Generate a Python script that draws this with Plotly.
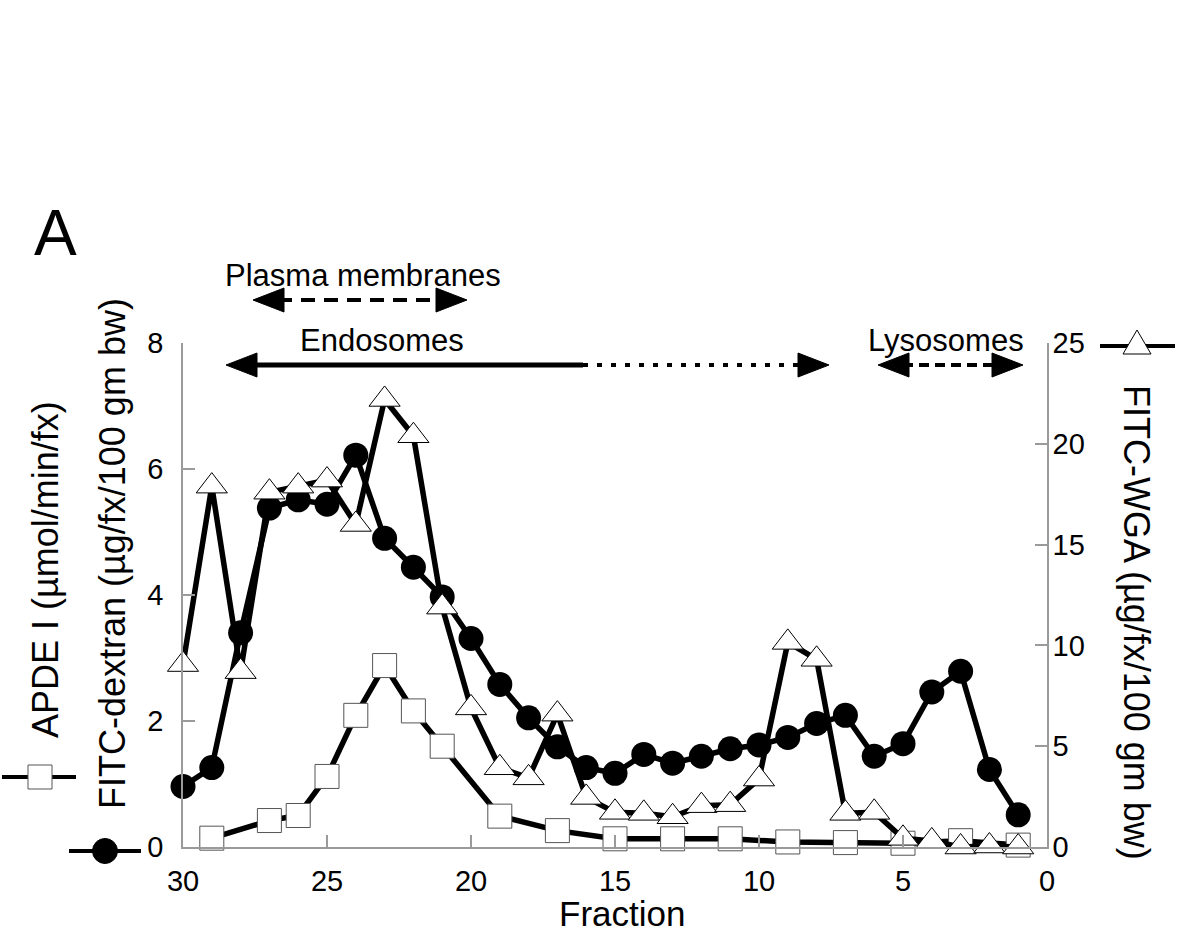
import plotly.graph_objects as go

# ---------------- data ----------------
fractions = list(range(30, 0, -1))
fitc_dextran = [0.96, 1.26, 3.40, 5.38, 5.51, 5.44, 6.22, 4.90, 4.44, 3.97,
                3.31, 2.58, 2.05, 1.59, 1.26, 1.17, 1.47, 1.33, 1.44, 1.56,
                1.62, 1.74, 1.96, 2.09, 1.44, 1.64, 2.46, 2.79, 1.23, 0.51]
fitc_wga = [9.05, 17.9, 8.7, 17.6, 17.9, 18.2, 16.0, 22.2, 20.4, 11.9,
            6.9, 3.93, 3.43, 6.59, 2.46, 1.72, 1.67, 1.50, 2.05, 2.10,
            3.37, 10.15, 9.31, 1.67, 1.72, 0.43, 0.30, 0.0, 0.05, 0.0]
apde_fractions = [29, 27, 26, 25, 24, 23, 22, 21, 19, 17, 15, 13, 11, 9, 7, 5, 3, 1]
apde = [0.14, 0.42, 0.50, 1.12, 2.09, 2.88, 2.16, 1.60, 0.49, 0.26,
        0.13, 0.13, 0.13, 0.08, 0.07, 0.06, 0.10, 0.03]

x_ticks = [30, 25, 20, 15, 10, 5, 0]
left_ticks = [0, 2, 4, 6, 8]
right_ticks = [0, 5, 10, 15, 20, 25]

# ---------------- layout geometry (pixels) ----------------
W, H = 1200, 936
L, R, T, B = 183, 1047, 343, 847
FONT = "Liberation Sans, Arial, Helvetica, sans-serif"


def px(x):
    return (x - L) / (R - L)


def py(y):
    return (B - y) / (B - T)


fig = go.Figure()

line_style = dict(color="black", width=5.5)

fig.add_trace(go.Scatter(
    x=apde_fractions, y=apde, mode="lines+markers", name="APDE I",
    line=line_style, cliponaxis=False,
    marker=dict(symbol="square", size=24, color="white",
                line=dict(color="#555555", width=1))))

fig.add_trace(go.Scatter(
    x=fractions, y=fitc_dextran, mode="lines+markers", name="FITC-dextran",
    line=line_style, cliponaxis=False,
    marker=dict(symbol="circle", size=25, color="black")))

fig.add_trace(go.Scatter(
    x=fractions, y=fitc_wga, mode="lines+markers", name="FITC-WGA",
    yaxis="y2", line=line_style, cliponaxis=False,
    marker=dict(symbol="triangle-up", size=27, color="white",
                line=dict(color="black", width=1))))

axis_common = dict(showgrid=False, zeroline=False, showline=True,
                   linecolor="#9a9a9a", ticks="inside", ticklen=12,
                   tickcolor="#9a9a9a", tickwidth=1.5,
                   tickfont=dict(size=29, color="black", family=FONT))

fig.update_layout(
    width=W, height=H,
    margin=dict(l=L, r=W - R, t=T, b=H - B, pad=0),
    paper_bgcolor="white", plot_bgcolor="white",
    showlegend=False,
    font=dict(family=FONT, color="black"),
    xaxis=dict(range=[30, 0], tickvals=x_ticks, linewidth=2,
               ticklabelstandoff=7, **axis_common),
    yaxis=dict(range=[0, 8], tickvals=left_ticks, linewidth=1.5,
               ticklabelstandoff=12, **axis_common),
    yaxis2=dict(range=[0, 25], tickvals=right_ticks, overlaying="y",
                side="right", anchor="x", linewidth=1.5,
                ticklabelstandoff=-2, **axis_common),
)

# ---------------- text annotations ----------------
def text(s, x, y, size, angle=0):
    fig.add_annotation(text=s, x=px(x), y=py(y), xref="paper", yref="paper",
                       showarrow=False, xanchor="center", yanchor="middle",
                       textangle=angle, font=dict(size=size, family=FONT, color="black"))


text("A", 55, 233, 64)
text("Plasma membranes", 363, 275, 31)
text("Endosomes", 382, 340, 31)
text("Lysosomes", 946, 340, 31)
text("Fraction", 622, 913, 35)
text("APDE I (µmol/min/fx)", 45, 570, 36, -90)
text("FITC-dextran (µg/fx/100 gm bw)", 112, 554, 36, -90)
text("FITC-WGA (µg/fx/100 gm bw)", 1137, 622, 36, 90)

# ---------------- arrows and legend symbols (shapes) ----------------
shapes = []


def hline(x0, x1, y, width=4, dash="solid"):
    shapes.append(dict(type="line", xref="paper", yref="paper",
                       x0=px(x0), x1=px(x1), y0=py(y), y1=py(y),
                       line=dict(color="black", width=width, dash=dash)))


def head(xtip, y, direction, length=31, half=12):
    d = -1 if direction == "right" else 1
    path = f"M0,0 L{d*length},{half} L{d*length},{-half} Z"
    shapes.append(dict(type="path", xref="paper", yref="paper",
                       xsizemode="pixel", ysizemode="pixel",
                       xanchor=px(xtip), yanchor=py(y), path=path,
                       fillcolor="black", line=dict(color="black", width=1)))


# Plasma membranes
hline(278, 442, 300, 4, "14px,9px")
head(253, 300, "left")
head(467, 300, "right")
# Endosomes
hline(250, 583, 365, 5, "solid")
hline(583, 800, 365, 4, "5px,9px")
head(226, 365, "left")
head(829, 365, "right")
# Lysosomes
hline(903, 998, 365, 4, "10px,6px")
head(878, 365, "left")
head(1023, 365, "right")

# legend: square
hline(2, 76, 777, 4)
shapes.append(dict(type="rect", xref="paper", yref="paper", xsizemode="pixel",
                   ysizemode="pixel", xanchor=px(40), yanchor=py(777),
                   x0=-12, x1=12, y0=-12, y1=12, fillcolor="white",
                   line=dict(color="#555555", width=1)))
# legend: circle
hline(69, 141, 851, 4)
shapes.append(dict(type="circle", xref="paper", yref="paper", xsizemode="pixel",
                   ysizemode="pixel", xanchor=px(105), yanchor=py(851),
                   x0=-12.5, x1=12.5, y0=-12.5, y1=12.5, fillcolor="black",
                   line=dict(color="black", width=1)))
# legend: triangle
hline(1100, 1175, 346, 4)
shapes.append(dict(type="path", xref="paper", yref="paper", xsizemode="pixel",
                   ysizemode="pixel", xanchor=px(1137), yanchor=py(346),
                   path="M-14,-8 L14,-8 L0,16 Z", fillcolor="white",
                   line=dict(color="black", width=1)))

fig.update_layout(shapes=shapes)

fig.write_html(
    "out.html",
    config={"displayModeBar": False},
    post_script="document.body.style.margin='0';"
                "document.body.style.overflow='hidden';"
                "document.documentElement.style.overflow='hidden';")
